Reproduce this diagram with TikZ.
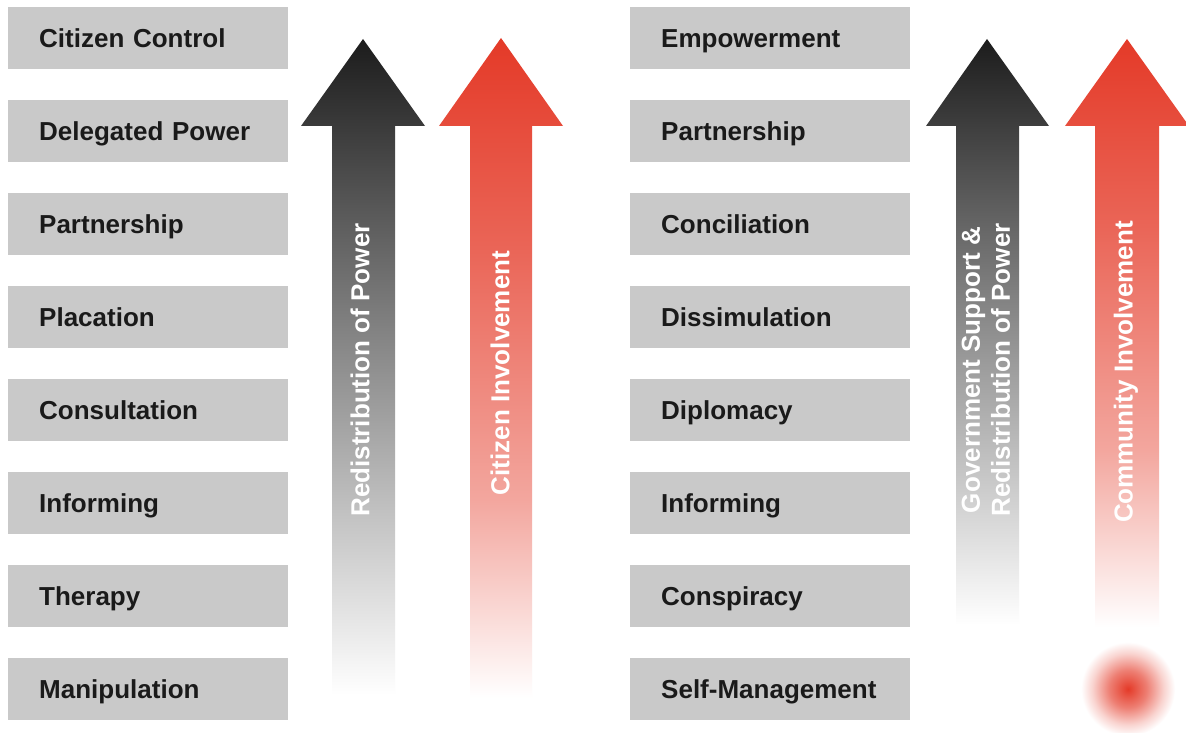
\documentclass[tikz,border=0pt]{standalone}
\usepackage{fontspec}
\setmainfont{Liberation Sans}
\usepackage{tikz}
\usepackage{xcolor}
\definecolor{boxgray}{HTML}{C9C9C9}
\definecolor{textdark}{HTML}{1A1A1A}
\definecolor{arrowred}{RGB}{228,58,40}
\pgfdeclareverticalshading{dark-fade}{100bp}{color(0bp)=(white); color(25bp)=(white); color(40bp)=(black!26); color(59bp)=(black!60); color(75bp)=(black!89); color(100bp)=(black!89)}
\pgfdeclareverticalshading{red-fade}{100bp}{color(0bp)=(white); color(25bp)=(white); color(40bp)=(arrowred!45!white); color(59bp)=(arrowred!78!white); color(75bp)=(arrowred); color(100bp)=(arrowred)}
\pgfdeclareradialshading{red-glow}{\pgfpoint{0bp}{0bp}}{color(0bp)=(arrowred); color(10bp)=(arrowred!65!white); color(19bp)=(arrowred!22!white); color(25bp)=(white); color(50bp)=(white)}
\tikzset{
    ladder-box/.style = {fill=boxgray, anchor=north west, minimum width=280pt, minimum height=62pt, text width=218pt, inner xsep=31pt, inner ysep=0pt, text height=22pt, text depth=4pt, align=left, text=textdark, font=\fontsize{26}{30}\selectfont\bfseries},
    arrow-label/.style = {rotate=90, text=white, align=center, font=\fontsize{26}{30}\selectfont\bfseries},
}
\begin{document}
\begin{tikzpicture}[x=1pt, y=-1pt]
\useasboundingbox (0,0) rectangle (1186,733);
\fill[white] (0,0) rectangle (1186,733);

\node[ladder-box] (citizen-control) at (8,7) {Citizen Control};
\node[ladder-box] (delegated-power) at (8,100) {Delegated Power};
\node[ladder-box] (partnership-l) at (8,193) {Partnership};
\node[ladder-box] (placation) at (8,286) {Placation};
\node[ladder-box] (consultation) at (8,379) {Consultation};
\node[ladder-box] (informing-l) at (8,472) {Informing};
\node[ladder-box] (therapy) at (8,565) {Therapy};
\node[ladder-box] (manipulation) at (8,658) {Manipulation};

\node[ladder-box] (empowerment) at (630,7) {Empowerment};
\node[ladder-box] (partnership-r) at (630,100) {Partnership};
\node[ladder-box] (conciliation) at (630,193) {Conciliation};
\node[ladder-box] (dissimulation) at (630,286) {Dissimulation};
\node[ladder-box] (diplomacy) at (630,379) {Diplomacy};
\node[ladder-box] (informing-r) at (630,472) {Informing};
\node[ladder-box] (conspiracy) at (630,565) {Conspiracy};
\node[ladder-box] (self-management) at (630,658) {Self-Management};

\shade[shading=dark-fade] (363,39) -- (425,126) -- (395,126) -- (395,695) -- (332,695) -- (332,126) -- (301,126) -- cycle;
\shade[shading=red-fade] (501,38) -- (563,126) -- (532,126) -- (532,698) -- (470,698) -- (470,126) -- (439,126) -- cycle;
\shade[shading=dark-fade] (987,39) -- (1049,126) -- (1019,126) -- (1019,625) -- (956,625) -- (956,126) -- (926,126) -- cycle;
\shade[shading=red-fade] (1127,39) -- (1189,126) -- (1159,126) -- (1159,627) -- (1095,627) -- (1095,126) -- (1065,126) -- cycle;
\shade[shading=red-glow] (1128,689) circle (47);

\node[arrow-label] (redistribution) at (360,370) {Redistribution of Power};
\node[arrow-label] (citizen-involvement) at (500,373) {Citizen Involvement};
\node[arrow-label] (government-support) at (986,370) {Government Support \&\\Redistribution of Power};
\node[arrow-label] (community-involvement) at (1126,372) {Community Involvement};
\end{tikzpicture}
\end{document}
